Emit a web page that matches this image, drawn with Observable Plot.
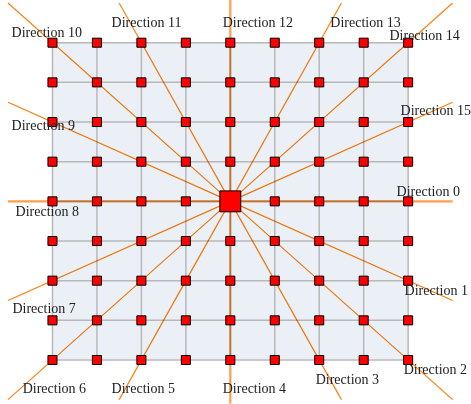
<!DOCTYPE html>
<html>
<head>
<meta charset="utf-8">
<script src="https://cdn.jsdelivr.net/npm/d3@7"></script>
<script src="https://cdn.jsdelivr.net/npm/@observablehq/plot@0.6"></script>
<style>
  html, body { margin: 0; padding: 0; background: #fff; }
</style>
</head>
<body>
<div id="chart"></div>
<script>
// Grid node indices (9 x 9 lattice, centre at 0,0)
const gridIdx = [-4, -3, -2, -1, 0, 1, 2, 3, 4];

// 16 directions, clockwise from "east" (screen y grows downward)
const dirNames = ["Direction 0","Direction 1","Direction 2","Direction 3","Direction 4","Direction 5","Direction 6","Direction 7",
                  "Direction 8","Direction 9","Direction 10","Direction 11","Direction 12","Direction 13","Direction 14","Direction 15"];
const rayEndX = [5, 5, 5, 2.5, 0, -2.5, -5, -5, -5, -5, -5, -2.5, 0, 2.5, 5, 5];
const rayEndY = [0, 2.5, 5, 5, 5.1, 5, 5, 2.5, 0, -2.5, -5, -5, -5.1, -5, -5, -2.5];

// Label anchor points (left edge, vertical middle) in grid units
const labelX = [3.74, 3.92, 3.90, 1.92, -0.17, -2.67, -4.67, -4.90, -4.83, -4.92, -4.92, -2.67, -0.17, 2.25, 3.58, 3.83];
const labelY = [-0.25, 2.25, 4.24, 4.49, 4.72, 4.72, 4.72, 2.70, 0.26, -1.91, -4.26, -4.51, -4.51, -4.51, -4.18, -2.29];

// tables built from the arrays
const nodes = gridIdx.flatMap(gx => gridIdx.map(gy => ({gx, gy})))
  .filter(d => !(d.gx === 0 && d.gy === 0));
const centre = [{gx: 0, gy: 0}];
const rays = dirNames.map((name, i) => ({name, x1: 0, y1: 0, x2: rayEndX[i], y2: rayEndY[i], axis: rayEndX[i] === 0 || rayEndY[i] === 0}));
const labels = dirNames.map((name, i) => ({name, x: labelX[i], y: labelY[i]}));
const gmin = d3.min(gridIdx), gmax = d3.max(gridIdx);

const chart = Plot.plot({
  width: 471,
  height: 404,
  margin: 0,
  x: {domain: [-5.169, 5.425], range: [0, 471], axis: null},
  y: {domain: [-5.064, 5.122], range: [0, 404], axis: null},
  style: {background: "#fff"},
  marks: [
    Plot.rect([{x1: gmin, x2: gmax, y1: gmin, y2: gmax}], {x1: "x1", x2: "x2", y1: "y1", y2: "y2", fill: "#ebf0f7"}),
    Plot.ruleX(gridIdx, {x: d => d, y1: gmin, y2: gmax, stroke: "#b8b8b8", strokeWidth: 1.5}),
    Plot.ruleY(gridIdx, {y: d => d, x1: gmin, x2: gmax, stroke: "#b8b8b8", strokeWidth: 1.5}),
    Plot.link(rays.filter(d => !d.axis), {x1: "x1", y1: "y1", x2: "x2", y2: "y2", stroke: "#ff7f0e", strokeWidth: 1.2, mixBlendMode: "multiply"}),
    Plot.link(rays.filter(d => d.axis), {x1: "x1", y1: "y1", x2: "x2", y2: "y2", stroke: "#ff7f0e", strokeWidth: 2.2, strokeOpacity: 0.75, mixBlendMode: "multiply"}),
    Plot.dot(nodes, {x: "gx", y: "gy", symbol: "square", r: 5.1, fill: "#ff0000", stroke: "#000", strokeWidth: 1}),
    Plot.dot(centre, {x: "gx", y: "gy", symbol: "square", r: 11.8, fill: "#ff0000", stroke: "#000", strokeWidth: 1}),
    Plot.text(labels, {x: "x", y: "y", text: "name", textAnchor: "start", fontFamily: "Liberation Serif", fontSize: 14, fill: "#222"})
  ]
});
document.getElementById("chart").append(chart);
</script>
</body>
</html>
